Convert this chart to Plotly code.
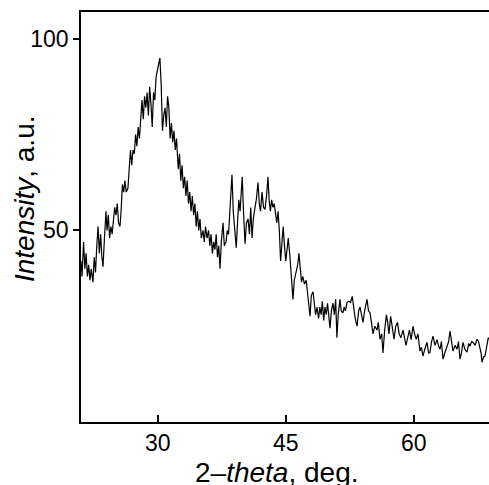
import plotly.graph_objects as go

two_theta = [
    21.00, 21.12, 21.30, 21.45, 21.60, 21.75, 21.90, 22.05, 22.20, 22.40, 22.55, 22.70, 22.85, 23.00, 23.15,
    23.30, 23.45, 23.58, 23.75, 23.93, 24.05, 24.20, 24.35, 24.50, 24.65, 24.80, 24.95, 25.10, 25.25, 25.40,
    25.57, 25.70, 25.85, 26.00, 26.15, 26.30, 26.50, 26.65, 26.80, 26.95, 27.10, 27.25, 27.40, 27.55, 27.70,
    27.85, 28.00, 28.15, 28.30, 28.45, 28.60, 28.75, 28.90, 29.05, 29.20, 29.35, 29.50, 29.65, 29.80, 29.95,
    30.10, 30.25, 30.40, 30.55, 30.70, 30.85, 31.00, 31.15, 31.30, 31.45, 31.60, 31.75, 31.90, 32.05, 32.20,
    32.40, 32.55, 32.70, 32.85, 33.00, 33.15, 33.30, 33.45, 33.60, 33.75, 33.90, 34.05, 34.20, 34.35, 34.50,
    34.65, 34.80, 34.95, 35.10, 35.30, 35.45, 35.60, 35.77, 35.95, 36.10, 36.25, 36.40, 36.55, 36.70, 36.85,
    37.00, 37.15, 37.30, 37.45, 37.65, 37.80, 38.00, 38.15, 38.30, 38.45, 38.60, 38.70, 38.85, 39.05, 39.20,
    39.35, 39.50, 39.65, 39.80, 39.90, 40.05, 40.23, 40.40, 40.58, 40.75, 40.90, 41.05, 41.20, 41.40, 41.55,
    41.75, 41.90, 42.05, 42.22, 42.40, 42.57, 42.75, 42.92, 43.05, 43.20, 43.35, 43.50, 43.65, 43.80, 43.95,
    44.10, 44.25, 44.40, 44.55, 44.70, 44.85, 45.00, 45.15, 45.30, 45.50, 45.65, 45.85, 46.00, 46.20, 46.40,
    46.55, 46.70, 46.85, 47.00, 47.20, 47.40, 47.55, 47.70, 47.85, 48.00, 48.20, 48.35, 48.50, 48.67, 48.85,
    49.00, 49.15, 49.30, 49.45, 49.60, 49.75, 49.90, 50.05, 50.19, 50.35, 50.54, 50.70, 50.85, 51.00, 51.15,
    51.36, 51.50, 51.70, 51.85, 52.00, 52.18, 52.40, 52.60, 52.80, 52.95, 53.15, 53.36, 53.55, 53.71, 53.90,
    54.06, 54.25, 54.40, 54.53, 54.70, 54.88, 55.05, 55.23, 55.45, 55.70, 55.85, 56.05, 56.25, 56.40, 56.60,
    56.80, 56.95, 57.10, 57.30, 57.50, 57.70, 57.90, 58.10, 58.30, 58.50, 58.75, 58.95, 59.10, 59.30, 59.50,
    59.70, 59.92, 60.10, 60.30, 60.50, 60.74, 60.90, 61.09, 61.30, 61.56, 61.75, 61.91, 62.10, 62.27, 62.50,
    62.74, 62.90, 63.09, 63.25, 63.44, 63.65, 63.91, 64.10, 64.26, 64.45, 64.61, 64.85, 65.08, 65.25, 65.43,
    65.60, 65.78, 66.00, 66.25, 66.45, 66.60, 66.80, 66.96, 67.20, 67.42, 67.60, 67.78, 67.90, 68.01, 68.20,
    68.36, 68.50, 68.60, 68.75, 68.85,
]

intensity = [
    42, 38, 47, 40, 44, 38, 41, 37, 40, 36.5, 43, 39, 46, 51, 44,
    49, 43, 40.5, 48, 55, 50, 54, 48, 51, 49, 53, 56, 54, 57, 52,
    51, 55, 62, 60, 63, 60, 61, 66, 71, 67, 71, 70, 75, 72, 77,
    74, 80, 84, 79, 85, 82, 86, 80, 87.5, 83, 77, 86, 84, 90, 92,
    93, 95, 88, 76, 80, 82, 77, 85, 82, 74, 78, 73, 76, 71, 74,
    66, 70, 63, 67, 61, 64, 59, 63, 57, 60, 55, 59, 54, 57, 51,
    55, 50, 53, 48, 50, 47, 51, 48, 50, 46, 49, 44, 47, 45, 49,
    43, 46, 40, 47, 52, 46, 47, 50, 49, 55, 60, 64.5, 55, 49, 45.5,
    52, 58, 55, 60, 64, 55, 46.5, 52, 53, 49, 56, 48, 53, 56, 58,
    62.5, 57, 55, 60, 56, 55.5, 59, 64, 58, 55, 58, 56, 57, 55, 52,
    55, 50, 42, 48, 51, 46, 42, 45, 48, 43, 38, 32, 37, 39, 41,
    44, 40, 36.5, 38, 36, 37, 34, 31, 27.6, 33, 34, 31, 28, 30, 27,
    30, 28, 31.5, 26.5, 30, 28, 31, 27, 24.5, 29, 31, 28, 32, 22, 28,
    32, 29, 28.5, 30, 29, 31.2, 31.5, 31.2, 32.8, 30, 27, 25, 29, 30, 28,
    26, 29, 31, 32, 29, 28.5, 26, 23, 25, 24, 26, 21.6, 23, 18, 24,
    28, 26, 23, 27.6, 24, 21.6, 25, 26, 23, 22, 24, 22, 20, 22, 24,
    21.5, 25, 23, 21.6, 23, 18.5, 19.5, 17.2, 19, 20.8, 18, 18.2, 21, 22.4, 20,
    21.5, 20, 19, 21, 16.4, 18, 19.5, 21, 23.7, 20, 18.5, 20, 19, 21, 16.4,
    18, 20.8, 19, 18.2, 20.5, 19.8, 21, 20.8, 20, 21.6, 21, 19.5, 18, 15.6, 17,
    17.2, 19, 20.8, 22, 21.6,
]

x_ticks = [30, 45, 60]
y_ticks = [50, 100]
x_title = "2–<i>theta</i>, deg."
y_title = "<i>Intensity</i>, a.u."

fig = go.Figure(
    go.Scatter(
        x=two_theta,
        y=intensity,
        mode="lines",
        line=dict(color="black", width=1.2),
        hoverinfo="skip",
    )
)

font_family = "Liberation Sans, Arial, sans-serif"

fig.update_layout(
    width=489,
    height=485,
    margin=dict(l=81, r=0, t=12, b=63),
    paper_bgcolor="white",
    plot_bgcolor="white",
    showlegend=False,
    font=dict(family=font_family, color="black", size=23),
)

fig.update_xaxes(
    range=[21, 68.83],
    tickvals=x_ticks,
    ticks="inside",
    ticklen=7,
    tickwidth=1.5,
    tickcolor="black",
    showline=True,
    linecolor="black",
    linewidth=1.5,
    mirror=True,
    showgrid=False,
    zeroline=False,
    automargin=False,
    tickfont=dict(size=23),
)

fig.update_yaxes(
    range=[0, 107],
    tickvals=y_ticks,
    ticks="outside",
    ticklen=6,
    tickwidth=1.5,
    tickcolor="black",
    showline=True,
    linecolor="black",
    linewidth=1.5,
    showgrid=False,
    zeroline=False,
    automargin=False,
    tickfont=dict(size=23),
)

fig.add_annotation(
    text=x_title, xref="paper", yref="paper",
    x=0.480, y=-0.080, xanchor="center", yanchor="top",
    showarrow=False, font=dict(size=28),
)
fig.add_annotation(
    text=y_title, xref="paper", yref="paper", textangle=-90,
    x=-0.137, y=0.544, xanchor="center", yanchor="middle",
    showarrow=False, font=dict(size=28),
)

fig.write_html(
    "out.html",
    config={"displayModeBar": False},
    post_script="document.body.style.margin='0';document.body.style.overflow='hidden';",
)
